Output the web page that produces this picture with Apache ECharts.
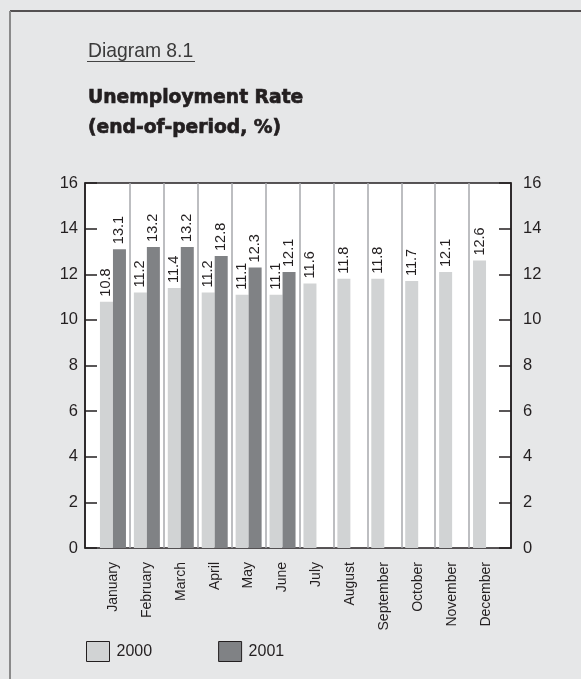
<!DOCTYPE html>
<html>
<head>
<meta charset="utf-8">
<title>Unemployment Rate</title>
<script src="https://cdn.jsdelivr.net/npm/echarts@6/dist/echarts.min.js"></script>
<style>
  html, body { margin: 0; padding: 0; background: #e6e7e8; }
  #chart { width: 581px; height: 679px; }
</style>
</head>
<body>
<div id="chart"></div>
<script>
// Monthly unemployment rate, end of period, %
const months = ['January', 'February', 'March', 'April', 'May', 'June',
                'July', 'August', 'September', 'October', 'November', 'December'];
const rate2000 = [10.8, 11.2, 11.4, 11.2, 11.1, 11.1, 11.6, 11.8, 11.8, 11.7, 12.1, 12.6];
const rate2001 = [13.1, 13.2, 13.2, 12.8, 12.3, 12.1, null, null, null, null, null, null];
const seriesNames = ['2000', '2001'];
const yMin = 0, yMax = 16, yStep = 2;

const sans = "'Liberation Sans', Arial, sans-serif";
const heavy = "bold 19.5px 'DejaVu Sans', sans-serif";
const ink = '#231f20';

const chart = echarts.init(document.getElementById('chart'), null, { renderer: 'canvas' });

const valueLabel = {
  show: true,
  position: 'top',
  rotate: 90,
  align: 'left',
  verticalAlign: 'middle',
  distance: 5,
  fontFamily: sans,
  fontSize: 14.5,
  color: ink,
  formatter: p => (p.value == null ? '' : p.value.toFixed(1))
};

const yAxisCommon = {
  type: 'value',
  gridIndex: 0,
  min: yMin,
  max: yMax,
  interval: yStep,
  splitLine: { show: false },
  axisLine: { show: true, lineStyle: { color: ink, width: 1.5 } },
  axisTick: { show: true, inside: true, length: 12, lineStyle: { color: ink, width: 1.5 } },
  axisLabel: { fontFamily: sans, fontSize: 16.5, color: ink }
};

chart.setOption({
  backgroundColor: '#e6e7e8',
  animation: false,
  graphic: [
    // panel frame
    { type: 'line', shape: { x1: 10, y1: 11, x2: 581, y2: 11 }, style: { stroke: ink, lineWidth: 1.5 } },
    { type: 'line', shape: { x1: 10, y1: 11, x2: 10, y2: 679 }, style: { stroke: '#8a8a8a', lineWidth: 2 } },
    // heading
    { type: 'text', x: 88, y: 51, scaleX: 0.92,
      style: { text: 'Diagram 8.1', font: "21px " + sans, fill: '#3a3a3a', verticalAlign: 'middle' } },
    { type: 'line', shape: { x1: 87, y1: 61.5, x2: 195, y2: 61.5 }, style: { stroke: '#444', lineWidth: 1 } },
    { type: 'text', x: 88, y: 98, scaleX: 0.96,
      style: { text: 'Unemployment Rate', font: heavy, fill: ink, stroke: ink, lineWidth: 0.7, verticalAlign: 'middle' } },
    { type: 'text', x: 88, y: 128, scaleX: 0.96,
      style: { text: '(end-of-period, %)', font: heavy, fill: ink, stroke: ink, lineWidth: 0.7, verticalAlign: 'middle' } }
  ],
  legend: {
    data: seriesNames,
    left: 86,
    top: 641,
    padding: 0,
    itemWidth: 23,
    itemHeight: 20,
    itemGap: 66,
    icon: 'rect',
    itemStyle: { borderColor: ink, borderWidth: 1 },
    textStyle: { fontFamily: sans, fontSize: 16, color: ink, padding: [0, 0, 0, 2] }
  },
  grid: [
    // white plot frame carrying the value axes
    { left: 85, right: 70, top: 183, bottom: 131, show: true, backgroundColor: '#ffffff', borderColor: ink, borderWidth: 1.5 },
    // month bands
    { left: 96, right: 78, top: 183, bottom: 131 }
  ],
  xAxis: [
    { type: 'category', gridIndex: 0, data: months, show: false },
    {
      type: 'category',
      gridIndex: 1,
      data: months,
      boundaryGap: true,
      axisLine: { show: false },
      axisTick: { show: false },
      splitLine: {
        show: true,
        showMinLine: false,
        showMaxLine: false,
        interval: 0,
        lineStyle: { color: '#a7a9ac', width: 1.5 }
      },
      axisLabel: {
        interval: 0,
        rotate: 90,
        margin: 14,
        fontFamily: sans,
        fontSize: 14,
        color: ink
      }
    }
  ],
  yAxis: [
    Object.assign({}, yAxisCommon, { position: 'left', axisLabel: Object.assign({}, yAxisCommon.axisLabel, { margin: 7 }) }),
    Object.assign({}, yAxisCommon, { position: 'right', axisLabel: Object.assign({}, yAxisCommon.axisLabel, { margin: 12 }) }),
    { type: 'value', gridIndex: 1, min: yMin, max: yMax, interval: yStep, show: false }
  ],
  series: [
    {
      name: seriesNames[0],
      type: 'bar',
      xAxisIndex: 1,
      yAxisIndex: 2,
      data: rate2000,
      barWidth: 13,
      barGap: '0%',
      itemStyle: { color: '#d1d3d4' },
      label: valueLabel
    },
    {
      name: seriesNames[1],
      type: 'bar',
      xAxisIndex: 1,
      yAxisIndex: 2,
      data: rate2001,
      barWidth: 13,
      barGap: '0%',
      itemStyle: { color: '#808285' },
      label: valueLabel
    }
  ]
});
</script>
</body>
</html>
